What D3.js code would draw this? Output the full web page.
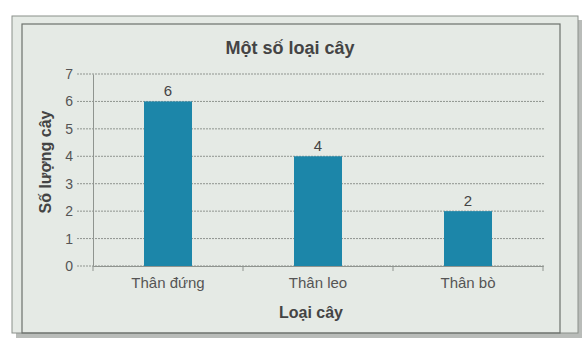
<!DOCTYPE html>
<html lang="vi">
<head>
<meta charset="UTF-8">
<title>Một số loại cây</title>
<script src="https://cdn.jsdelivr.net/npm/d3@7"></script>
<style>
  body { margin: 0; background: #ffffff; }
  svg { font-family: "Liberation Sans", Arial, sans-serif; }
  .tick text { fill: #555; font-size: 14px; }
</style>
</head>
<body>
<svg id="chart" width="584" height="348"></svg>
<script>
const categories = ['Thân đứng', 'Thân leo', 'Thân bò']
const counts = [6, 4, 2]
const yTicks = [0, 1, 2, 3, 4, 5, 6, 7]

const svg = d3.select('#chart')

// frame with shadow
svg.append('rect')
  .attr('x', 16).attr('y', 20).attr('width', 566).attr('height', 318)
  .attr('fill', '#b9bcb9')
svg.append('rect')
  .attr('x', 12).attr('y', 16).attr('width', 566).attr('height', 317)
  .attr('fill', '#e5eae5')
  .attr('stroke', '#8a8f8a')
svg.append('rect')
  .attr('x', 22).attr('y', 24).attr('width', 538).attr('height', 309)
  .attr('fill', 'none')
  .attr('stroke', '#6c716c')
  .attr('stroke-width', 1.2)

const margin = { left: 93, right: 41, top: 74, bottom: 82 }
const W = 584 - margin.left - margin.right
const H = 348 - margin.top - margin.bottom

const g = svg.append('g').attr('transform', `translate(${margin.left},${margin.top})`)

const x = d3.scaleBand().domain(categories).range([0, W]).paddingInner(0.68).paddingOuter(0.34)
const y = d3.scaleLinear().domain([0, 7]).range([H, 0])

// grid
g.selectAll('.grid').data(yTicks).enter().append('line')
  .attr('x1', -16).attr('x2', W + 2)
  .attr('y1', d => y(d)).attr('y2', d => y(d))
  .attr('stroke', '#8f948f')
  .attr('stroke-dasharray', '2,1')

// y axis
const yAxis = g.append('g')
  .call(d3.axisLeft(y).tickValues(yTicks).tickFormat(d3.format('d')).tickSize(0).tickPadding(20))
yAxis.select('.domain').attr('stroke', '#8f948f')

// x axis
const xAxisG = g.append('g').attr('transform', `translate(0,${H})`)
  .call(d3.axisBottom(x).tickSize(0).tickPadding(11))
xAxisG.selectAll('.tick text').attr('font-size', 15).style('font-size', '15px')
xAxisG.select('.domain').attr('stroke', '#8f948f')
const step = x.step()
xAxisG.selectAll('.sep').data(d3.range(categories.length + 1)).enter().append('line')
  .attr('x1', i => i * step).attr('x2', i => i * step)
  .attr('y1', 0).attr('y2', 5)
  .attr('stroke', '#8f948f')

// bars
g.selectAll('.bar').data(counts).enter().append('rect')
  .attr('x', (d, i) => x(categories[i]))
  .attr('y', d => y(d))
  .attr('width', x.bandwidth())
  .attr('height', d => H - y(d))
  .attr('fill', '#1c86a9')

g.selectAll('.val').data(counts).enter().append('text')
  .attr('x', (d, i) => x(categories[i]) + x.bandwidth() / 2)
  .attr('y', d => y(d) - 5)
  .attr('text-anchor', 'middle')
  .attr('font-size', 15)
  .attr('fill', '#444')
  .text(d => d)

// titles
svg.append('text')
  .attr('x', 290).attr('y', 54)
  .attr('text-anchor', 'middle')
  .attr('font-size', 18).attr('font-weight', 'bold').attr('fill', '#444')
  .text('Một số loại cây')

svg.append('text')
  .attr('x', 311).attr('y', 318)
  .attr('text-anchor', 'middle')
  .attr('font-size', 16).attr('font-weight', 'bold').attr('fill', '#444')
  .text('Loại cây')

svg.append('text')
  .attr('transform', 'translate(51,162) rotate(-90)')
  .attr('text-anchor', 'middle')
  .attr('font-size', 16).attr('font-weight', 'bold').attr('fill', '#444')
  .text('Số lượng cây')
</script>
</body>
</html>
